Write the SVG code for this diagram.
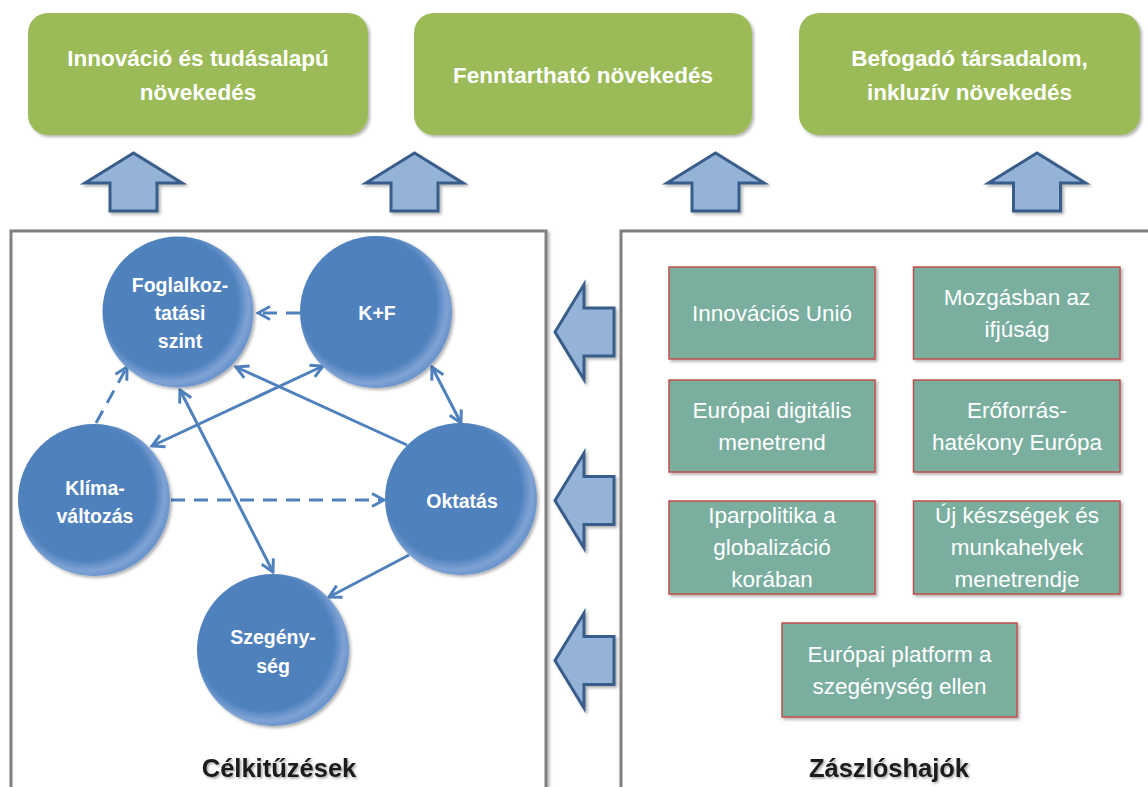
<svg xmlns="http://www.w3.org/2000/svg" width="1148" height="787" viewBox="0 0 1148 787">
<defs>
<style>
.goal rect{fill:#9bbb59;filter:url(#sh)}
.goal text{font-family:"Liberation Sans",Arial,sans-serif;font-weight:bold;font-size:22.5px;fill:#fff;text-anchor:middle}
.arr{fill:#95b3d7;stroke:#385d8a;stroke-width:3;stroke-linejoin:miter;filter:url(#sh)}
.panel{fill:#fff;stroke:#808080;stroke-width:3;filter:url(#sh2)}
.circ circle{fill:url(#cg);filter:url(#sh)}
.circ text{font-family:"Liberation Sans",Arial,sans-serif;font-weight:bold;font-size:19.5px;fill:#fff;text-anchor:middle}
.flag rect{fill:#7aae9f;stroke:#c0504d;stroke-width:1.5;filter:url(#sh)}
.flag text{font-family:"Liberation Sans",Arial,sans-serif;font-size:22.5px;fill:#fff;text-anchor:middle}
.title{font-family:"Liberation Sans",Arial,sans-serif;font-weight:bold;font-size:25.5px;fill:#1a1a1a;text-anchor:middle;filter:url(#tsh)}
.con line{stroke:#4f81bd;stroke-width:3;fill:none}
.dash{stroke-dasharray:14 9}
</style>
<filter id="sh" x="-20%" y="-20%" width="140%" height="140%">
<feDropShadow dx="2" dy="2" stdDeviation="1.5" flood-color="#000" flood-opacity="0.3"/>
</filter>
<filter id="sh2" x="-5%" y="-5%" width="110%" height="110%">
<feDropShadow dx="2" dy="2" stdDeviation="1.5" flood-color="#000" flood-opacity="0.3"/>
</filter>
<filter id="tsh" x="-10%" y="-30%" width="120%" height="160%">
<feDropShadow dx="1.5" dy="1.5" stdDeviation="1" flood-color="#000" flood-opacity="0.35"/>
</filter>
<radialGradient id="cg" cx="0.45" cy="0.45" r="0.56">
<stop offset="0" stop-color="#4f81bd"/>
<stop offset="0.8" stop-color="#4f81bd"/>
<stop offset="0.92" stop-color="#7fa3d5"/>
<stop offset="1" stop-color="#6a94cc"/>
</radialGradient>
<marker id="ah" viewBox="-14 -8 16 16" refX="0" refY="0" markerWidth="16" markerHeight="16" markerUnits="userSpaceOnUse" orient="auto-start-reverse">
<path d="M-12,-6.5 L0,0 L-12,6.5" fill="none" stroke="#4f81bd" stroke-width="3"/>
</marker>
</defs>

<g id="goal1" class="goal">
<rect x="28" y="13" width="340" height="122" rx="20"/>
<text x="198" y="66">Innováció és tudásalapú</text>
<text x="198" y="100">növekedés</text>
</g>
<g id="goal2" class="goal">
<rect x="414" y="13" width="338" height="122" rx="20"/>
<text x="583" y="83">Fenntartható növekedés</text>
</g>
<g id="goal3" class="goal">
<rect x="799" y="13" width="341" height="122" rx="20"/>
<text x="969.5" y="66">Befogadó társadalom,</text>
<text x="969.5" y="100">inkluzív növekedés</text>
</g>

<g id="up-arrows">
<path class="arr" d="M133.5,153 L182,183 L157,183 L157,211 L110,211 L110,183 L85,183 Z"/>
<path class="arr" d="M414.5,153 L463,183 L438,183 L438,211 L391,211 L391,183 L366,183 Z"/>
<path class="arr" d="M715.5,153 L764,183 L739,183 L739,211 L692,211 L692,183 L667,183 Z"/>
<path class="arr" d="M1037,153 L1085.5,183 L1060.5,183 L1060.5,211 L1013.5,211 L1013.5,183 L988.5,183 Z"/>
</g>

<g id="panel-left">
<rect class="panel" x="11" y="231" width="535" height="600"/>
<text class="title" x="279" y="777">Célkitűzések</text>
</g>
<g id="panel-right">
<rect class="panel" x="621" y="231" width="560" height="600"/>
<text class="title" x="889" y="777">Zászlóshajók</text>
</g>

<g id="left-arrows">
<path class="arr" d="M555,332 L584,284.5 L584,308 L614,308 L614,356 L584,356 L584,379.5 Z"/>
<path class="arr" d="M555,500.5 L584,453 L584,476.5 L614,476.5 L614,524.5 L584,524.5 L584,548 Z"/>
<path class="arr" d="M555,660.5 L584,613 L584,636.5 L614,636.5 L614,684.5 L584,684.5 L584,708 Z"/>
</g>

<g id="connectors" class="con">
<line class="dash" x1="300" y1="313" x2="258" y2="313" marker-end="url(#ah)"/>
<line class="dash" x1="96" y1="423" x2="127" y2="367" marker-end="url(#ah)"/>
<line x1="323" y1="366" x2="152" y2="446" marker-start="url(#ah)" marker-end="url(#ah)"/>
<line x1="407" y1="445" x2="236" y2="367" marker-end="url(#ah)"/>
<line x1="432" y1="367" x2="461" y2="423" marker-start="url(#ah)" marker-end="url(#ah)"/>
<line x1="180" y1="390" x2="273" y2="572" marker-start="url(#ah)" marker-end="url(#ah)"/>
<line class="dash" x1="171" y1="500" x2="384" y2="500" marker-end="url(#ah)"/>
<line x1="409" y1="555" x2="329" y2="597" marker-end="url(#ah)"/>
</g>

<g id="c-foglalkoztatas" class="circ">
<circle cx="178" cy="312" r="75.5"/>
<text x="180" y="292">Foglalkoz-</text>
<text x="180" y="320">tatási</text>
<text x="180" y="348">szint</text>
</g>
<g id="c-kf" class="circ">
<circle cx="376" cy="312" r="76"/>
<text x="377" y="320">K+F</text>
</g>
<g id="c-klima" class="circ">
<circle cx="94" cy="500" r="76"/>
<text x="95" y="495">Klíma-</text>
<text x="95" y="523">változás</text>
</g>
<g id="c-oktatas" class="circ">
<circle cx="461" cy="499" r="76"/>
<text x="462" y="508">Oktatás</text>
</g>
<g id="c-szegenyseg" class="circ">
<circle cx="273" cy="650" r="76"/>
<text x="273" y="644">Szegény-</text>
<text x="273" y="673">ség</text>
</g>

<g id="f-innovacios-unio" class="flag">
<rect x="669" y="267" width="206" height="92"/>
<text x="772" y="321">Innovációs Unió</text>
</g>
<g id="f-mozgasban" class="flag">
<rect x="913.5" y="267" width="206.5" height="92"/>
<text x="1017" y="305">Mozgásban az</text>
<text x="1017" y="337">ifjúság</text>
</g>
<g id="f-digitalis" class="flag">
<rect x="669" y="380" width="206" height="92"/>
<text x="772" y="418">Európai digitális</text>
<text x="772" y="450">menetrend</text>
</g>
<g id="f-eroforras" class="flag">
<rect x="913.5" y="380" width="206.5" height="92"/>
<text x="1017" y="418">Erőforrás-</text>
<text x="1017" y="450">hatékony Európa</text>
</g>
<g id="f-iparpolitika" class="flag">
<rect x="669" y="501" width="206" height="93"/>
<text x="772" y="523">Iparpolitika a</text>
<text x="772" y="555">globalizáció</text>
<text x="772" y="587">korában</text>
</g>
<g id="f-keszsegek" class="flag">
<rect x="913.5" y="501" width="206.5" height="93"/>
<text x="1017" y="523">Új készségek  és</text>
<text x="1017" y="555">munkahelyek</text>
<text x="1017" y="587">menetrendje</text>
</g>
<g id="f-platform" class="flag">
<rect x="782" y="623" width="235" height="94"/>
<text x="899.5" y="662">Európai platform a</text>
<text x="899.5" y="694">szegénység ellen</text>
</g>
</svg>
